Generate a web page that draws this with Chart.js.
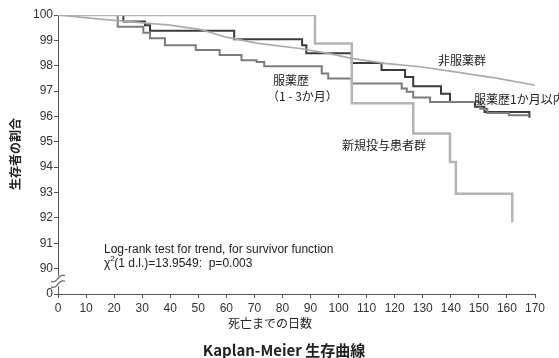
<!DOCTYPE html>
<html><head><meta charset="utf-8">
<script src="https://cdn.jsdelivr.net/npm/chart.js@4"></script>
<style>html,body{margin:0;padding:0;background:#fff}#wrap{width:559px;height:358px}</style>
</head><body><div id="wrap"><canvas id="c" width="559" height="358"></canvas></div>
<script>
// ---- data ----
const xTicks = [0,10,20,30,40,50,60,70,80,90,100,110,120,130,140,150,160,170];
const yTicks = [89,90,91,92,93,94,95,96,97,98,99,100]; // 89 shown as "0" (broken axis)
const yTickLabels = ["0","90","91","92","93","94","95","96","97","98","99","100"];

const nonDays = [0,15,39.9,50.6,53.5,59.5,71.3,86.2,96.3,104.7,116.5,129,141.5,156.8,170];
const nonSurv = [100,99.84,99.6,99.43,99.34,99.14,98.88,98.68,98.49,98.29,98.09,97.96,97.76,97.5,97.23];

const within1Days = [0,23.3,31,32.8,62.8,87,88.5,104.7,115.3,123.7,126.6,136.5,139.7,148.6,152,168,168];
const within1Surv = [100,99.74,99.6,99.38,99.04,98.81,98.49,98.11,97.83,97.56,97.19,96.9,96.57,96.38,96.18,96.18,95.95];

const m13Days = [0,21.3,30.4,32.8,38.1,49.1,57.6,65.4,70.8,73.5,94,96.3,104.7,122.5,124.3,126.6,132.6,150.5,153,160.7,168];
const m13Surv = [100,99.54,99.3,99.08,98.81,98.62,98.42,98.22,98.15,97.98,97.69,97.5,97.3,97.1,96.97,96.75,96.57,96.3,96.14,96.05,96.05];

const newDays = [0,91.6,104.7,126.6,139.7,141.8,161.9];
const newSurv = [100,98.88,96.52,95.33,94.2,92.95,91.83];

const pts = (d,s)=>d.map((x,i)=>({x, y:s[i]}));
const FONT = '"Liberation Sans", Arial, "Noto Sans CJK JP", sans-serif';
const JP = '"Noto Sans CJK JP", "Liberation Sans", sans-serif';

const textPlugin = {
  id:'texts',
  afterDraw(chart){
    const ctx = chart.ctx, xs = chart.scales.x, ys = chart.scales.y;
    ctx.save();
    // axis break symbol
    const ax = xs.left, by = (ys.getPixelForValue(90)+ys.getPixelForValue(89))/2;
    ctx.fillStyle='#fff'; ctx.fillRect(ax-2, by-5, 4, 10);
    ctx.strokeStyle='#666'; ctx.lineWidth=1.2;
    [-2.8,2.8].forEach(o=>{
      ctx.beginPath();
      for(let i=0;i<=14;i++){
        const px = ax-7+i, py = by+o - (i-7)*0.4 + Math.sin(i/14*Math.PI*2)*1.6;
        if(i===0) ctx.moveTo(px,py); else ctx.lineTo(px,py);
      }
      ctx.stroke();
    });
    ctx.fillStyle='#222';
    ctx.textBaseline='middle';
    ctx.textAlign='left';
    ctx.font='12px '+JP;
    ctx.fillText('非服薬群', 438, 60);
    ctx.fillText('服薬歴1か月以内', 474, 99);
    ctx.fillText('服薬歴', 273, 80);
    ctx.fillText('（1 - 3か月）', 267, 96);
    ctx.fillText('新規投与患者群', 342, 145);
    ctx.font='12px '+FONT;
    ctx.fillText('Log-rank test for trend, for survivor function', 104, 250);
    ctx.fillText('χ', 104, 264);
    const cw = ctx.measureText('χ').width;
    ctx.font='8px '+FONT;
    ctx.fillText('2', 104+cw, 259);
    ctx.font='12px '+FONT;
    ctx.fillText('(1 d.l.)=13.9549:  p=0.003', 104+cw+4, 264);
    // axis titles
    ctx.textAlign='center';
    ctx.font='12px '+JP;
    ctx.fillText('死亡までの日数', 270, 323);
    ctx.font='bold 15px '+JP;
    ctx.fillText('Kaplan-Meier 生存曲線', 284, 350);
    ctx.translate(15, 154);
    ctx.rotate(-Math.PI/2);
    ctx.font='bold 12px '+JP;
    ctx.fillText('生存者の割合', 0, 0);
    ctx.restore();
  }
};

new Chart(document.getElementById('c'), {
  type:'line',
  data:{ datasets:[
    {label:'非服薬群', data:pts(nonDays,nonSurv), borderColor:'#ababab', borderWidth:1.7, stepped:false, tension:0},
    {label:'新規投与患者群', data:pts(newDays,newSurv), borderColor:'#b4b4b4', borderWidth:2.5, stepped:true},
    {label:'服薬歴（1 - 3か月）', data:pts(m13Days,m13Surv), borderColor:'#7c7c7c', borderWidth:2, stepped:true},
    {label:'服薬歴1か月以内', data:pts(within1Days,within1Surv), borderColor:'#3c3c3c', borderWidth:2, stepped:true},
  ]},
  options:{
    responsive:false, animation:false,
    layout:{padding:{top:15,right:24,left:0,bottom:0}},
    elements:{point:{radius:0}},
    plugins:{legend:{display:false}, tooltip:{enabled:false}},
    scales:{
      x:{type:'linear', min:0, max:170,
        afterBuildTicks(s){ s.ticks = xTicks.map(v=>({value:v})); },
        afterFit(s){ s.height = 64; },
        grid:{display:true, drawOnChartArea:false, drawTicks:true, tickLength:4, color:'#555'},
        border:{display:true, color:'#555', width:1},
        ticks:{font:{family:FONT,size:12}, color:'#333', padding:3, maxRotation:0, autoSkip:false}
      },
      y:{type:'linear', min:89, max:100,
        afterBuildTicks(s){ s.ticks = yTicks.map(v=>({value:v})); },
        afterFit(s){ s.width = 58; },
        grid:{display:true, drawOnChartArea:false, drawTicks:true, tickLength:4, color:'#555'},
        border:{display:true, color:'#555', width:1},
        ticks:{font:{family:FONT,size:12}, color:'#333', padding:1, autoSkip:false,
          callback(v){ const i = yTicks.indexOf(v); return i>=0 ? yTickLabels[i] : ''; }}
      }
    }
  },
  plugins:[textPlugin]
});
</script></body></html>
